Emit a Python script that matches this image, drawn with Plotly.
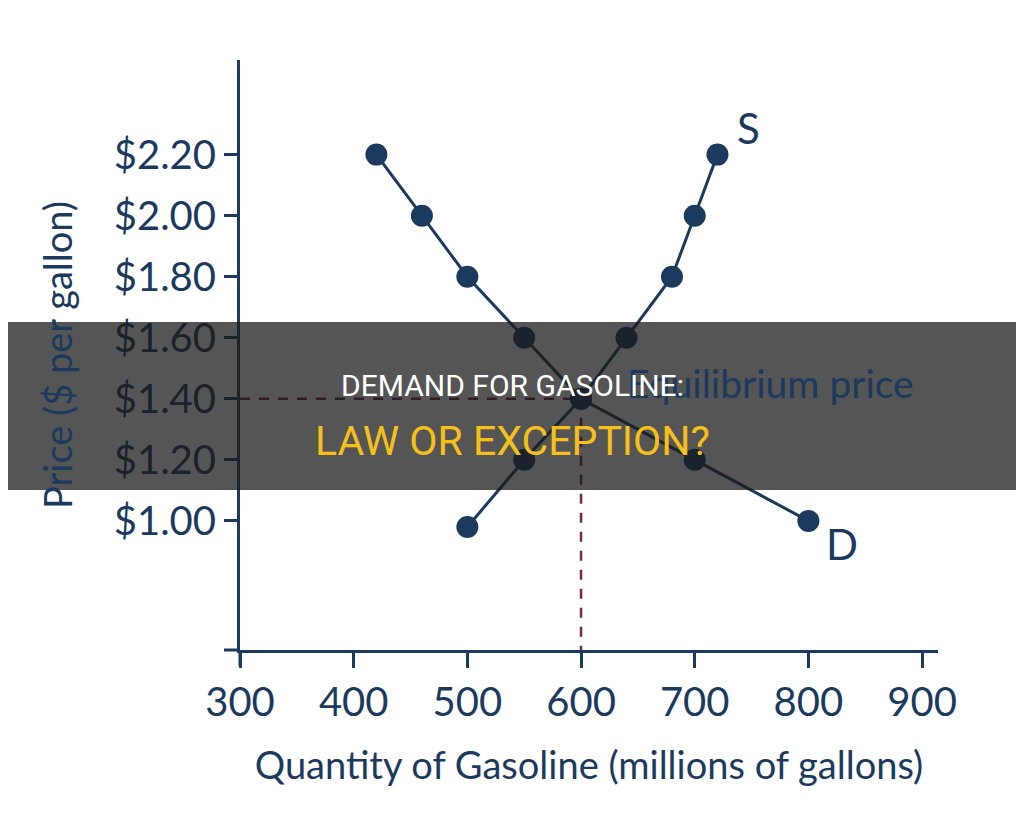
import plotly.graph_objects as go

demand_q = [420, 460, 500, 550, 600, 700, 800]
demand_p = [2.20, 2.00, 1.80, 1.60, 1.40, 1.20, 1.00]
supply_q = [500, 550, 600, 640, 680, 700, 720]
supply_p = [0.98, 1.20, 1.40, 1.60, 1.80, 2.00, 2.20]

eq_q = 600
eq_p = 1.40

x_ticks = [300, 400, 500, 600, 700, 800, 900]
y_ticks = [1.00, 1.20, 1.40, 1.60, 1.80, 2.00, 2.20]
y_labels = ['$1.00', '$1.20', '$1.40', '$1.60', '$1.80', '$2.00', '$2.20']

navy = '#1b3a5e'
maroon = '#7d2648'
font = 'Lato, Open Sans, sans-serif'
x_range = [300, 914]
y_range = [0.577, 2.51]

fig = go.Figure()

# dashed guides to the equilibrium
fig.add_trace(go.Scatter(x=[x_range[0], eq_q], y=[eq_p, eq_p], mode='lines',
                         line=dict(color=maroon, width=2.5, dash='10px,9px'),
                         hoverinfo='skip'))
fig.add_trace(go.Scatter(x=[eq_q, eq_q], y=[eq_p, y_range[0]], mode='lines',
                         line=dict(color=maroon, width=2.5, dash='10px,9px'),
                         hoverinfo='skip'))

fig.add_trace(go.Scatter(x=demand_q, y=demand_p, mode='lines+markers', name='D',
                         line=dict(color=navy, width=3),
                         marker=dict(color=navy, size=22)))
fig.add_trace(go.Scatter(x=supply_q, y=supply_p, mode='lines+markers', name='S',
                         line=dict(color=navy, width=3),
                         marker=dict(color=navy, size=22)))

fig.add_annotation(x=720, y=2.20, text='S', showarrow=False, xanchor='left', yanchor='bottom',
                   xshift=18, yshift=0, font=dict(size=42, color=navy, family=font))
fig.add_annotation(x=800, y=1.00, text='D', showarrow=False, xanchor='left', yanchor='top',
                   xshift=16, yshift=4, font=dict(size=42, color=navy, family=font))
fig.add_annotation(x=eq_q, y=eq_p, text='Equilibrium price', showarrow=False,
                   xanchor='left', yanchor='bottom', xshift=44, yshift=-9,
                   font=dict(size=39, color=navy, family=font))

# x axis line extends a little left of the y axis
fig.add_shape(type='line', xref='paper', yref='paper', x0=-16 / 698, x1=0, y0=0, y1=0,
              line=dict(color=navy, width=3))
fig.add_shape(type='line', xref='paper', yref='paper', x0=0, x1=0, y0=0, y1=-0.027,
              line=dict(color=navy, width=3))

# dark banner over the middle
fig.add_shape(type='rect', xref='paper', yref='paper', x0=-0.6, x1=1.6,
              y0=0.271, y1=0.556, fillcolor='rgba(25,25,25,0.74)', line=dict(width=0),
              layer='above')
fig.add_annotation(xref='paper', yref='paper', x=0.390, y=0.449, text='DEMAND FOR GASOLINE:',
                   showarrow=False, font=dict(size=30, color='white',
                                              family='Liberation Sans Narrow, Roboto, sans-serif'))
fig.add_annotation(xref='paper', yref='paper', x=0.390, y=0.354, text='LAW OR EXCEPTION?',
                   showarrow=False, font=dict(size=41, color='#f5c01c',
                                              family='Liberation Sans Narrow, Roboto, sans-serif'))

# the page adds an 8px body margin, so the figure is drawn 8px smaller and offset
fig.update_layout(
    width=1016, height=821,
    margin=dict(l=232, r=86, t=52, b=179, autoexpand=False),
    plot_bgcolor='white', paper_bgcolor='white',
    showlegend=False,
    font=dict(family=font, color=navy),
    xaxis=dict(range=x_range, tickvals=x_ticks, showgrid=False, zeroline=False,
               showline=True, linecolor=navy, linewidth=3, automargin=False,
               ticks='outside', ticklen=15, tickwidth=3, tickcolor=navy,
               tickfont=dict(size=40, color=navy),
               title=dict(text='Quantity of Gasoline (millions of gallons)',
                          font=dict(size=38, color=navy), standoff=29)),
    yaxis=dict(range=y_range, tickvals=y_ticks, ticktext=y_labels, showgrid=False,
               zeroline=False, showline=True, linecolor=navy, linewidth=3, automargin=False,
               ticks='outside', ticklen=13, tickwidth=3, tickcolor=navy,
               tickfont=dict(size=40, color=navy),
               title=dict(text='Price ($ per gallon)', font=dict(size=38, color=navy),
                          standoff=30)),
)

fig.write_html('out.html')
